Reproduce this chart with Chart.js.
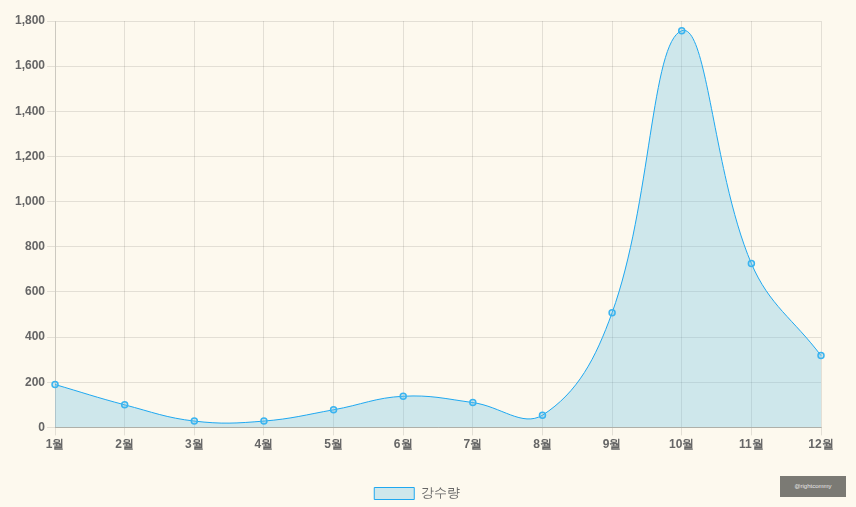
<!DOCTYPE html>
<html>
<head>
<meta charset="utf-8">
<script src="https://cdn.jsdelivr.net/npm/chart.js@4/dist/chart.umd.min.js"></script>
<style>
  html, body { margin: 0; padding: 0; background: #fdf9ee; }
  #wrap { position: relative; width: 856px; height: 507px; }
  #stamp {
    position: absolute; left: 780px; top: 476px; width: 66px; height: 21px;
    background: #7b7a74; color: #e8e8e8; font: 6px Arial, sans-serif;
    line-height: 21px; text-align: center; overflow: hidden;
  }
</style>
</head>
<body>
<div id="wrap">
  <canvas id="chart-1"></canvas>
  <div id="stamp">@rightcommy</div>
</div>
<script>
const months = ["1월", "2월", "3월", "4월", "5월", "6월", "7월", "8월", "9월", "10월", "11월", "12월"];
const rainfall = [190, 100, 28, 28, 78, 138, 110, 54, 508, 1757, 726, 318];
const seriesName = "강수량";

window.addEventListener("DOMContentLoaded", () => {
  const muted = "#666";
  const gridColor = "rgba(0,0,0,0.1)";
  const tickFont = { size: 12, weight: "bold", family: "'Helvetica Neue', Helvetica, Arial, sans-serif" };

  new Chart(document.getElementById("chart-1"), {
    type: "line",
    data: {
      labels: months,
      datasets: [{
        label: seriesName,
        data: rainfall,
        borderColor: "#1fa8f0",
        backgroundColor: "rgba(100,190,230,0.3)",
        borderWidth: 1,
        fill: true,
        tension: 0.4,
        pointRadius: 3,
        pointBorderWidth: 1.5,
        pointBackgroundColor: "rgba(100,190,230,0.3)",
        pointBorderColor: "#3ab4f0"
      }]
    },
    options: {
      responsive: true,
      maintainAspectRatio: false,
      animation: false,
      layout: {
        padding: { top: 21, right: 35, left: 13, bottom: -3 }
      },
      plugins: {
        legend: {
          position: "bottom",
          title: {
            display: true,
            text: "",
            font: { size: 1 },
            padding: { top: 32, bottom: 0 }
          },
          labels: {
            color: muted,
            boxWidth: 40,
            boxHeight: 12,
            padding: 0,
            font: { size: 13, family: "'Helvetica Neue', Helvetica, Arial, sans-serif" }
          }
        },
        tooltip: { enabled: false }
      },
      scales: {
        x: {
          grid: { color: gridColor, tickLength: 8 },
          border: { color: "rgba(0,0,0,0.22)" },
          ticks: { color: muted, font: tickFont, maxRotation: 0, padding: 2 }
        },
        y: {
          min: 0,
          max: 1800,
          grid: { color: gridColor, tickLength: 8 },
          border: { color: gridColor },
          ticks: { color: muted, font: tickFont, stepSize: 200, padding: 2 }
        }
      }
    }
  });
});
</script>
</body>
</html>
